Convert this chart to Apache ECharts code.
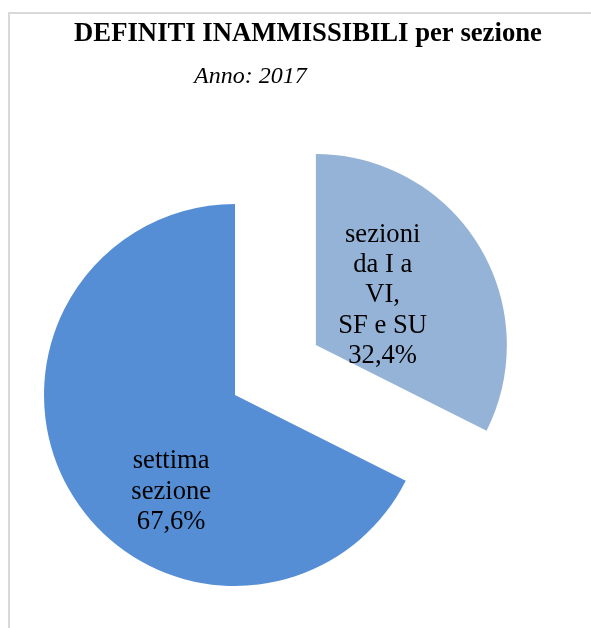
<!DOCTYPE html>
<html>
<head>
<meta charset="utf-8">
<script src="https://cdn.jsdelivr.net/npm/echarts@6/dist/echarts.min.js"></script>
<style>
  html, body { margin: 0; padding: 0; background: #fff; }
  #main { width: 591px; height: 628px; }
</style>
</head>
<body>
<div id="main"></div>
<script>
// dati
const categories = ['sezioni\nda I a\nVI,\nSF e SU', 'settima\nsezione'];
const values = [32.4, 67.6];
const colors = ['#95B3D7', '#558ED5'];
// spostamento delle etichette rispetto alla posizione "inside"
const labelShift = [[-17, 2], [20, 45]];

const serif = "'Liberation Serif', 'Times New Roman', serif";

const chart = echarts.init(document.getElementById('main'));

const option = {
  backgroundColor: '#fff',
  animation: false,
  title: [
    {
      text: 'DEFINITI INAMMISSIBILI per sezione',
      left: 303,
      textAlign: 'center',
      top: 16,
      textStyle: { fontFamily: serif, fontSize: 26.7, fontWeight: 'bold', color: '#000' }
    },
    {
      text: 'Anno: 2017',
      left: 189,
      top: 60,
      textStyle: { fontFamily: serif, fontSize: 24, fontStyle: 'italic', fontWeight: 'normal', color: '#000' }
    }
  ],
  graphic: [
    {
      type: 'rect',
      shape: { x: 9, y: 13, width: 800, height: 800 },
      style: { fill: 'none', stroke: '#d9d9d9', lineWidth: 2 },
      silent: true
    }
  ],
  series: [
    {
      type: 'pie',
      center: [235, 395],
      radius: [0, 191],
      startAngle: 90,
      clockwise: true,
      selectedMode: 'single',
      selectedOffset: 95,
      avoidLabelOverlap: false,
      label: {
        show: true,
        position: 'inside',
        fontFamily: serif,
        fontSize: 26.6,
        lineHeight: 30.3,
        color: '#000',
        align: 'center',
        formatter: function (p) {
          return p.name + '\n' + p.value.toFixed(1).replace('.', ',') + '%';
        }
      },
      labelLayout: function (params) {
        const s = labelShift[params.dataIndex];
        return { dx: s[0], dy: s[1] };
      },
      labelLine: { show: false },
      emphasis: { disabled: true },
      itemStyle: { borderWidth: 0 },
      data: categories.map(function (c, i) {
        return {
          name: c,
          value: values[i],
          selected: i === 0,
          itemStyle: { color: colors[i] }
        };
      })
    }
  ]
};

chart.setOption(option);
</script>
</body>
</html>
